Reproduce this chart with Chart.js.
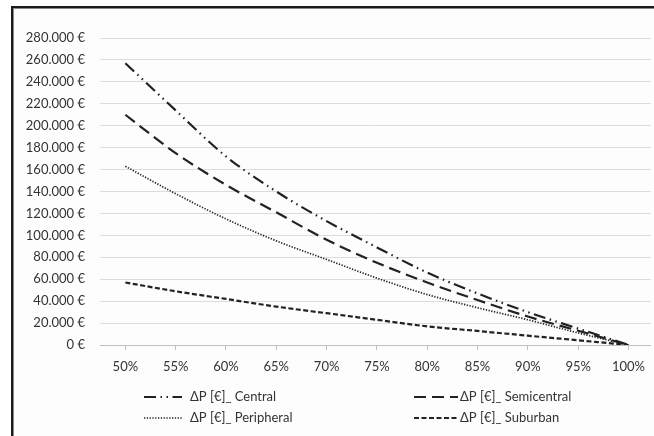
<!DOCTYPE html>
<html>
<head>
<meta charset="utf-8">
<script src="https://cdn.jsdelivr.net/npm/chart.js@4.4.1/dist/chart.umd.min.js"></script>
<style>
  html, body { margin: 0; padding: 0; background: #ffffff; overflow: hidden; }
  #wrap { position: relative; width: 654px; height: 436px; }
  #frame { position: absolute; left: 11px; top: 6px; width: 700px; height: 500px;
           border-top: 2px solid #1a1a1a; border-left: 2px solid #1a1a1a;
           box-shadow: inset 1px 1px 0 #8a8a8a; background: #fdfdfd; }
  canvas { position: absolute; left: 0; top: 0; }
</style>
</head>
<body>
<div id="wrap">
  <div id="frame"></div>
  <canvas id="c" width="654" height="436"></canvas>
</div>
<script>
// ---- data ----
const xShares = [0.50, 0.55, 0.60, 0.65, 0.70, 0.75, 0.80, 0.85, 0.90, 0.95, 1.00];
const central     = [257000, 214000, 172000, 140000, 113000, 89000, 66000, 47000, 30000, 15000, 0];
const semicentral = [210000, 175000, 146000, 121000, 96000, 75000, 57000, 41000, 26000, 13000, 0];
const peripheral  = [163000, 138000, 115000, 95000, 78000, 61000, 46000, 34000, 23000, 11000, 0];
const suburban    = [57000, 49000, 42000, 35000, 29000, 23000, 17000, 12800, 8500, 4300, 0];
const seriesNames = ['ΔP [€]_ Central', 'ΔP [€]_ Semicentral', 'ΔP [€]_ Peripheral', 'ΔP [€]_ Suburban'];
const yTicks = [0, 20000, 40000, 60000, 80000, 100000, 120000, 140000, 160000, 180000, 200000, 220000, 240000, 260000, 280000];

const FONT = 'Lato, Carlito, "Open Sans", sans-serif';
const TEXT = '#333333';
const LINE = '#222222';

function euro(v) {
  return String(Math.round(v)).replace(/\B(?=(\d{3})+(?!\d))/g, '.') + ' €';
}
function pts(arr) { return arr.map((v, i) => ({ x: xShares[i], y: v })); }

const styles = [
  { borderDash: [12, 4.5, 1.5, 4.5, 1.5, 4.5], borderWidth: 2.2 },
  { borderDash: [12, 6], borderWidth: 2.2 },
  { borderDash: [1.3, 1.5], borderWidth: 1.7 },
  { borderDash: [5, 2.5], borderWidth: 2.2 }
];
const values = [central, semicentral, peripheral, suburban];

const datasets = values.map((arr, i) => ({
  label: seriesNames[i],
  data: pts(arr),
  borderColor: LINE,
  backgroundColor: LINE,
  borderWidth: styles[i].borderWidth,
  borderDash: styles[i].borderDash,
  pointRadius: 0,
  tension: 0,
  cubicInterpolationMode: 'monotone',
  fill: false
}));

const gridLegend = {
  id: 'gridLegend',
  afterDraw(chart) {
    const ctx = chart.ctx;
    const colX = [144, 414];
    const rowY = [397, 418];
    const sampleLen = [38, 44];
    chart.data.datasets.forEach((ds, i) => {
      const col = i % 2;
      const x = colX[col], y = rowY[Math.floor(i / 2)];
      ctx.save();
      ctx.strokeStyle = ds.borderColor;
      ctx.lineWidth = ds.borderWidth;
      ctx.setLineDash(ds.borderDash);
      ctx.beginPath();
      ctx.moveTo(x, y);
      ctx.lineTo(x + sampleLen[col], y);
      ctx.stroke();
      ctx.setLineDash([]);
      ctx.fillStyle = TEXT;
      ctx.font = '13px ' + FONT;
      ctx.textBaseline = 'middle';
      ctx.textAlign = 'left';
      ctx.fillText(ds.label, x + (col === 0 ? 46 : 46), y);
      ctx.restore();
    });
  }
};

new Chart(document.getElementById('c'), {
  type: 'line',
  data: { datasets },
  options: {
    responsive: false,
    animation: false,
    devicePixelRatio: 1,
    layout: { padding: { left: 0, right: 0, top: 38, bottom: 61 } },
    plugins: { legend: { display: false }, tooltip: { enabled: false } },
    scales: {
      x: {
        type: 'linear',
        min: 0.4748,
        max: 1.0222,
        afterBuildTicks: (s) => { s.ticks = xShares.map(v => ({ value: v })); },
        afterFit: (s) => { s.height = 30; },
        ticks: {
          autoSkip: false,
          maxRotation: 0,
          padding: 9,
          color: TEXT,
          font: { family: FONT, size: 13 },
          callback: (v) => Math.round(v * 100) + '%'
        },
        grid: { drawOnChartArea: false, drawTicks: true, tickLength: 5, color: '#bfbfbf' },
        border: { display: true, color: '#bfbfbf', width: 1 }
      },
      y: {
        min: 0,
        max: 280000,
        afterBuildTicks: (s) => { s.ticks = yTicks.map(v => ({ value: v })); },
        afterFit: (s) => { s.width = 100; },
        ticks: {
          padding: 15,
          color: TEXT,
          font: { family: FONT, size: 13 },
          callback: (v) => euro(v)
        },
        grid: {
          drawTicks: false,
          color: (c) => (c.tick && c.tick.value === 0 ? '#bfbfbf' : '#dcdcdc'),
          lineWidth: 1
        },
        border: { display: false }
      }
    }
  },
  plugins: [gridLegend]
});
</script>
</body>
</html>
